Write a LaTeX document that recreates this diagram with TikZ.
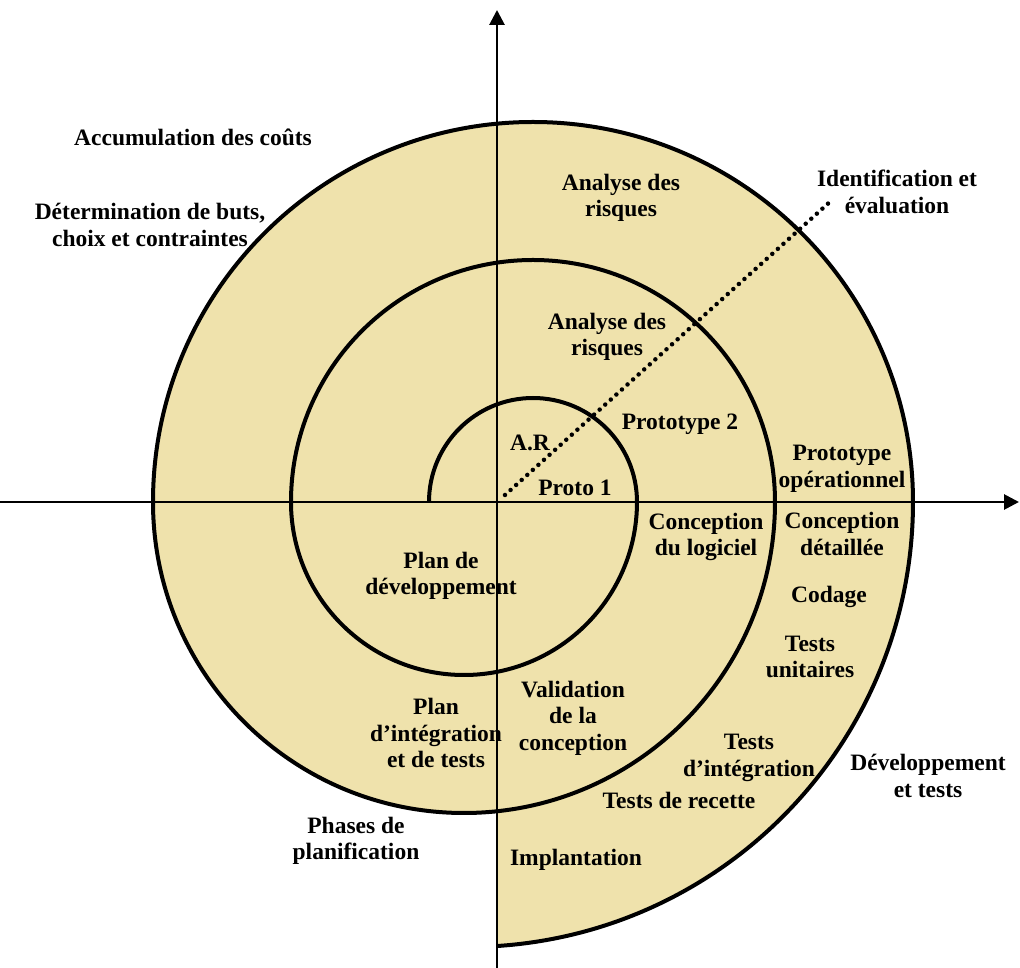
\documentclass[tikz,border=0pt]{standalone}
\usepackage{fontspec}
\setmainfont{Liberation Serif}
\usepackage{xcolor}
\usetikzlibrary{arrows.meta, positioning, calc}
\definecolor{spiralfill}{RGB}{239,226,172}

\begin{document}
\begin{tikzpicture}[
    x=1pt, y=1pt,
    font=\fontsize{23.5}{26.5}\selectfont\bfseries,
    lbl/.style={
      align=center,
      inner sep=0pt
    },
    spiral/.style={
      line width=4pt
    },
    axis/.style={
      -{Triangle[length=15pt, width=15pt]},
      line width=2.8pt
    },
    dotline/.style={
      line width=4.5pt,
      dash pattern=on 0pt off 7.5pt,
      line cap=round
    }
]

\useasboundingbox (-497,-466) rectangle (523,502);

% 1. SHADED AREA
\fill[spiralfill] (-344,0) arc[start angle=180, end angle=0, radius=380]
    arc[start angle=0, end angle=-86.26, radius=445]
    -- (0,-309.2) arc[start angle=-83.91, end angle=-180, radius=311] -- cycle;

% 2. AXES
\coordinate (O) at (0,0);
\coordinate (west) at (-497,0);
\coordinate (east) at (522,0);
\coordinate (south) at (0,-466);
\coordinate (north) at (0,492);
\draw[axis] (west) -- (east);
\draw[axis] (south) -- (north);

% 3. SPIRAL
\draw[spiral] (-68,0) arc[start angle=180, end angle=0, radius=104]
    arc[start angle=0, end angle=-180, radius=173]
    arc[start angle=180, end angle=0, radius=242]
    arc[start angle=0, end angle=-180, radius=311]
    arc[start angle=180, end angle=0, radius=380]
    arc[start angle=0, end angle=-86.26, radius=445];

% Dotted line: identification et evaluation
\coordinate (dotstart) at (8,7);
\coordinate (dotend) at (335,302);
\draw[dotline] (dotstart) -- (dotend);

% 4. LABELS
\node[lbl] (couts) at (-304,365) {Accumulation des coûts};
\node[lbl] (buts) at (-347,277) {Détermination de buts,\\choix et contraintes};
\node[lbl] (risques3) at (124,304) {Analyse des\\risques};
\node[lbl] (ident) at (400,310) {Identification et\\évaluation};
\node[lbl] (risques2) at (110,165) {Analyse des\\risques};
\node[lbl] (ar) at (33,59) {A.R};
\node[lbl] (proto1) at (78,14) {Proto 1};
\node[lbl] (proto2) at (183,78) {Prototype 2};
\node[lbl] (protoop) at (345,33) {Prototype\\opérationnel};
\node[lbl] (concdet) at (345,-32) {Conception\\détaillée};
\node[lbl] (conclog) at (209,-35) {Conception\\du logiciel};
\node[lbl] (plandev) at (-56,-74) {Plan de\\développement};
\node[lbl] (codage) at (332,-95) {Codage};
\node[lbl] (unit) at (313,-155) {Tests\\unitaires};
\node[lbl] (planint) at (-61,-231) {Plan\\d’intégration\\et de tests};
\node[lbl] (valid) at (76,-216) {Validation\\de la\\conception};
\node[lbl] (testint) at (252,-256) {Tests\\d’intégration};
\node[lbl] (devtests) at (431,-274) {Développement\\et tests};
\node[lbl] (recette) at (182,-298) {Tests de recette};
\node[lbl] (phases) at (-141,-339) {Phases de\\planification};
\node[lbl] (implant) at (79,-358) {Implantation};

\end{tikzpicture}
\end{document}
